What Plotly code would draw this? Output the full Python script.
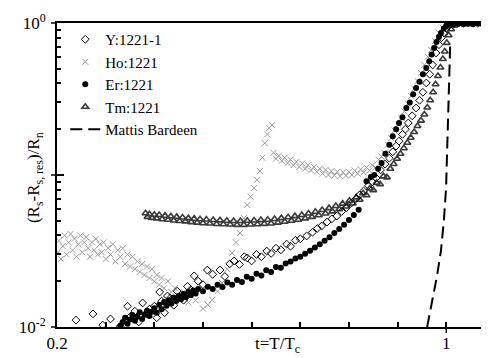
import plotly.graph_objects as go

# ---------------- data ----------------
y_t = [0.239, 0.274, 0.294, 0.310, 0.330, 0.345, 0.352, 0.360, 0.368, 0.376, 0.383, 0.390, 0.400, 0.405,
       0.411, 0.415, 0.421, 0.427, 0.433, 0.440, 0.447, 0.454, 0.460, 0.468, 0.475, 0.482, 0.490, 0.500,
       0.509, 0.520, 0.535, 0.545, 0.555, 0.564, 0.575, 0.585, 0.591, 0.600, 0.610, 0.620, 0.631, 0.640,
       0.650, 0.660, 0.672, 0.680, 0.690, 0.700, 0.713, 0.725, 0.735, 0.744, 0.755, 0.765, 0.775, 0.785,
       0.795, 0.805, 0.815, 0.822, 0.830, 0.840, 0.848, 0.856, 0.865, 0.874, 0.883, 0.890, 0.897, 0.903,
       0.910, 0.916, 0.922, 0.930, 0.938, 0.945, 0.952, 0.959, 0.966, 0.972, 0.979, 0.985, 0.990, 0.995,
       1.000, 1.005, 1.010]
y_val = [0.0111, 0.0122, 0.0103, 0.0113, 0.0101, 0.0137, 0.0118, 0.0127, 0.0108, 0.0144, 0.0122, 0.0131, 0.0137, 0.0115,
         0.0170, 0.0148, 0.0124, 0.0160, 0.0155, 0.0139, 0.0172, 0.0162, 0.0150, 0.0185, 0.0176, 0.0217, 0.0200, 0.0190,
         0.0237, 0.0222, 0.0237, 0.0215, 0.0260, 0.0272, 0.0258, 0.0290, 0.0285, 0.0272, 0.0300, 0.0290, 0.0316, 0.0305,
         0.0330, 0.0322, 0.0351, 0.0340, 0.0372, 0.0380, 0.0397, 0.0420, 0.0445, 0.0462, 0.0490, 0.0515, 0.0537, 0.0575,
         0.0610, 0.0654, 0.0700, 0.0740, 0.0785, 0.0850, 0.0900, 0.0955, 0.108, 0.118, 0.129, 0.142, 0.155, 0.167,
         0.185, 0.200, 0.220, 0.245, 0.276, 0.310, 0.350, 0.403, 0.460, 0.530, 0.635, 0.720, 0.800, 0.860,
         0.920, 0.960, 0.985]

ho_t = [0.202, 0.204, 0.208, 0.212, 0.216, 0.220, 0.224, 0.228, 0.232, 0.236, 0.240, 0.244, 0.248, 0.252,
        0.256, 0.260, 0.264, 0.268, 0.272, 0.276, 0.280, 0.284, 0.288, 0.292, 0.296, 0.300, 0.305, 0.310,
        0.315, 0.320, 0.325, 0.330, 0.335, 0.340, 0.345, 0.350, 0.355, 0.360, 0.365, 0.370, 0.375, 0.380,
        0.385, 0.390, 0.395, 0.400, 0.405, 0.410, 0.415, 0.420, 0.428, 0.435, 0.442, 0.450, 0.460, 0.470,
        0.485, 0.500, 0.510,
        0.519, 0.530, 0.539, 0.550, 0.560, 0.568, 0.576, 0.584, 0.591, 0.598, 0.605, 0.611, 0.617, 0.622,
        0.627, 0.632, 0.636, 0.642,
        0.645, 0.650, 0.656, 0.662, 0.668, 0.674, 0.680, 0.686, 0.692, 0.698, 0.704, 0.710, 0.716, 0.722,
        0.728, 0.734, 0.740, 0.746, 0.752, 0.758, 0.764, 0.770, 0.776, 0.782, 0.788, 0.794, 0.800, 0.806,
        0.812, 0.818, 0.824, 0.830, 0.836, 0.842, 0.848, 0.854, 0.861, 0.867, 0.873,
        0.880, 0.887, 0.894, 0.901, 0.908, 0.914, 0.921, 0.928, 0.934, 0.941, 0.948, 0.955, 0.962, 0.969,
        0.977, 0.985, 0.993, 1.000, 1.010, 1.030, 1.050, 1.070, 1.090]
ho_val = [0.031, 0.037, 0.028, 0.034, 0.040, 0.030, 0.036, 0.041, 0.032, 0.038, 0.029, 0.035, 0.040, 0.031,
          0.036, 0.039, 0.033, 0.029, 0.036, 0.032, 0.038, 0.030, 0.035, 0.031, 0.036, 0.028, 0.033, 0.030,
          0.035, 0.027, 0.032, 0.029, 0.033, 0.026, 0.030, 0.025, 0.029, 0.024, 0.027, 0.023, 0.026, 0.022,
          0.025, 0.021, 0.024, 0.020, 0.022, 0.019, 0.021, 0.018, 0.020, 0.017, 0.018, 0.016, 0.017, 0.0145,
          0.0150, 0.0132, 0.0140,
          0.0151, 0.0172, 0.0195, 0.0240, 0.0307, 0.0360, 0.0415, 0.0520, 0.0635, 0.0720, 0.0820, 0.0930, 0.106, 0.130,
          0.162, 0.185, 0.204, 0.213,
          0.140, 0.128, 0.134, 0.124, 0.130, 0.120, 0.126, 0.116, 0.122, 0.113, 0.119, 0.110, 0.116, 0.107,
          0.113, 0.105, 0.110, 0.102, 0.108, 0.100, 0.106, 0.099, 0.105, 0.098, 0.104, 0.099, 0.105, 0.100,
          0.107, 0.102, 0.109, 0.104, 0.112, 0.107, 0.116, 0.112, 0.126, 0.132, 0.140,
          0.158, 0.175, 0.196, 0.215, 0.237, 0.262, 0.295, 0.331, 0.370, 0.415, 0.469, 0.530, 0.600, 0.665,
          0.760, 0.860, 0.930, 0.970, 0.980, 0.975, 0.980, 0.975, 0.980]

er_t = [0.330, 0.335, 0.340, 0.345, 0.350, 0.355, 0.360, 0.365, 0.370, 0.375, 0.380, 0.385, 0.390, 0.395,
        0.400, 0.405, 0.410, 0.415, 0.420, 0.425, 0.430, 0.435, 0.440, 0.445, 0.450, 0.455, 0.460, 0.465,
        0.470, 0.475, 0.480, 0.485, 0.490, 0.500, 0.510, 0.520, 0.530, 0.540, 0.550, 0.560, 0.570, 0.580,
        0.590, 0.600, 0.610, 0.620, 0.630, 0.640, 0.650, 0.660, 0.670, 0.680, 0.690, 0.700, 0.710, 0.720,
        0.730, 0.740, 0.750, 0.760, 0.770, 0.780, 0.790, 0.800, 0.810, 0.820,
        0.836, 0.845, 0.852, 0.860, 0.867, 0.875, 0.883, 0.890, 0.897, 0.903, 0.910, 0.918, 0.925, 0.932,
        0.938, 0.945, 0.952, 0.959, 0.965, 0.970, 0.975, 0.980, 0.985, 0.989, 0.995, 1.000, 1.005, 1.010,
        1.015, 1.025, 1.035, 1.045, 1.055, 1.065, 1.075, 1.085]
er_val = [0.0102, 0.0108, 0.0115, 0.0105, 0.0112, 0.0120, 0.0110, 0.0117, 0.0125, 0.0113, 0.0121, 0.0128, 0.0118, 0.0126,
          0.0133, 0.0124, 0.0140, 0.0131, 0.0146, 0.0138, 0.0150, 0.0143, 0.0156, 0.0148, 0.0160, 0.0152, 0.0165, 0.0157,
          0.0170, 0.0162, 0.0174, 0.0166, 0.0178, 0.0172, 0.0184, 0.0178, 0.0190, 0.0183, 0.0196, 0.0190, 0.0204, 0.0198,
          0.0214, 0.0208, 0.0224, 0.0218, 0.0236, 0.0230, 0.0248, 0.0245, 0.0262, 0.0270, 0.0282, 0.0290, 0.0303, 0.0318,
          0.0333, 0.0350, 0.0370, 0.0390, 0.0415, 0.0442, 0.0470, 0.0505, 0.0545, 0.0590,
          0.091, 0.097, 0.100, 0.110, 0.120, 0.138, 0.158, 0.180, 0.200, 0.220, 0.240, 0.276, 0.300, 0.340,
          0.373, 0.410, 0.460, 0.506, 0.560, 0.620, 0.685, 0.750, 0.810, 0.860, 0.920, 0.960, 0.980, 0.990,
          0.980, 0.990, 0.980, 0.990, 0.980, 0.990, 0.980, 0.990]

tm_t = [0.382, 0.386, 0.390, 0.395, 0.400, 0.405, 0.410, 0.416, 0.422, 0.428, 0.434, 0.440, 0.446, 0.452,
        0.458, 0.464, 0.470, 0.476, 0.482, 0.488, 0.494, 0.500, 0.507, 0.514, 0.521, 0.528, 0.535, 0.542,
        0.549, 0.556, 0.563, 0.570, 0.577, 0.584, 0.591, 0.598, 0.605, 0.612, 0.619, 0.626, 0.633, 0.640,
        0.647, 0.654, 0.661, 0.668, 0.675, 0.682, 0.689, 0.696, 0.703, 0.710, 0.717, 0.724, 0.731, 0.738,
        0.745, 0.752, 0.759, 0.766, 0.773, 0.780, 0.787, 0.794, 0.801, 0.808, 0.815, 0.822, 0.829, 0.836,
        0.843, 0.850, 0.857, 0.864, 0.871, 0.878, 0.885, 0.892, 0.899, 0.906, 0.913, 0.920, 0.927, 0.934,
        0.941, 0.948, 0.955, 0.961, 0.967, 0.973, 0.978, 0.983, 0.988, 0.993, 0.997, 1.001, 1.005, 1.010,
        1.016, 1.022, 1.030, 1.040, 1.050, 1.060, 1.070, 1.080, 1.090]
tm_val = [0.0560, 0.0530, 0.0552, 0.0522, 0.0548, 0.0518, 0.0545, 0.0512, 0.0540, 0.0508, 0.0534, 0.0502, 0.0530, 0.0498,
          0.0525, 0.0495, 0.0520, 0.0490, 0.0516, 0.0486, 0.0512, 0.0482, 0.0510, 0.0480, 0.0506, 0.0476, 0.0503, 0.0474,
          0.0500, 0.0472, 0.0498, 0.0470, 0.0498, 0.0470, 0.0500, 0.0472, 0.0502, 0.0474, 0.0505, 0.0477, 0.0508, 0.0480,
          0.0513, 0.0486, 0.0520, 0.0492, 0.0527, 0.0500, 0.0536, 0.0508, 0.0546, 0.0518, 0.0558, 0.0530, 0.0572, 0.0543,
          0.0588, 0.0558, 0.0605, 0.0576, 0.0625, 0.0596, 0.0648, 0.0620, 0.0676, 0.0650, 0.0712, 0.0688, 0.0758, 0.0735,
          0.0815, 0.0795, 0.0888, 0.0870, 0.0980, 0.0965, 0.110, 0.118, 0.128, 0.138, 0.150, 0.163, 0.176, 0.192,
          0.210, 0.228, 0.250, 0.278, 0.310, 0.350, 0.395, 0.448, 0.510, 0.580, 0.650, 0.740, 0.830, 0.910,
          0.960, 0.985, 0.990, 0.985, 0.990, 0.988, 0.990, 0.985, 0.990]

mb_t = [0.9607, 0.971, 0.981, 0.989, 0.995, 0.9996, 1.0037, 1.008]
mb_val = [0.0100, 0.0144, 0.0217, 0.0316, 0.0498, 0.082, 0.237, 0.706]

names = ["Y:1221-1", "Ho:1221", "Er:1221", "Tm:1221", "Mattis Bardeen"]
x_tickvals = [0.2, 0.3, 0.4, 0.5, 0.6, 0.7, 0.8, 0.9, 1.0]
x_ticktext = ["0.2", "", "", "", "", "", "", "", "1"]
y_tickvals = [0.01, 0.1, 1]
y_ticktext = ["10<sup>-2</sup>", "", "10<sup>0</sup>"]
y_minor = [m * d for d in (0.01, 0.1) for m in range(2, 10)]

FONT = "Liberation Serif"

fig = go.Figure()
fig.add_trace(go.Scatter(x=ho_t, y=ho_val, mode="markers", name=names[1], legendrank=2,
                         marker=dict(symbol="x-thin-open", size=6, color="#9a9a9a", line=dict(width=1, color="#9a9a9a"))))
fig.add_trace(go.Scatter(x=tm_t, y=tm_val, mode="markers", name=names[3], legendrank=4,
                         marker=dict(symbol="triangle-up-open", size=6, color="#3a3a3a", line=dict(width=1.6, color="#3a3a3a"))))
fig.add_trace(go.Scatter(x=y_t, y=y_val, mode="markers", name=names[0], legendrank=1,
                         marker=dict(symbol="diamond-open", size=6, color="black", line=dict(width=1, color="black"))))
fig.add_trace(go.Scatter(x=er_t, y=er_val, mode="markers", name=names[2], legendrank=3,
                         marker=dict(symbol="circle", size=6, color="black")))
fig.add_trace(go.Scatter(x=mb_t, y=mb_val, mode="lines", name=names[4], legendrank=5,
                         line=dict(color="black", width=2, dash="12px,6px")))

shapes = []
# outside stubs of the major ticks
for yp in (0.0, 0.5, 1.0):
    shapes.append(dict(type="line", xref="paper", yref="paper", x0=-6 / 437, x1=0, y0=yp, y1=yp,
                       line=dict(color="black", width=1.5)))
shapes.append(dict(type="line", xref="x", yref="paper", x0=1.0, x1=1.0, y0=0, y1=-6 / 304,
                   line=dict(color="black", width=1.5)))

fig.update_layout(
    width=489, height=358,
    margin=dict(l=49, r=3, t=15, b=39),
    paper_bgcolor="white", plot_bgcolor="white",
    font=dict(family=FONT, size=17, color="black"),
    showlegend=True,
    legend=dict(x=0.019, y=1.0, xanchor="left", yanchor="top", bgcolor="rgba(0,0,0,0)",
                font=dict(family=FONT, size=15, color="black"), tracegroupgap=0),
    xaxis=dict(range=[0.2, 1.094], tickvals=x_tickvals, ticktext=x_ticktext, ticks="inside", ticklen=5,
               tickwidth=1.5, tickcolor="black", showline=True, linecolor="black", linewidth=2, mirror=True,
               showgrid=False, zeroline=False, ticklabelstandoff=0,
               tickfont=dict(family=FONT, size=17, color="black")),
    yaxis=dict(type="log", range=[-2, 0], tickvals=y_tickvals, ticktext=y_ticktext, ticks="inside", ticklen=7,
               tickwidth=1.5, tickcolor="black", showline=True, linecolor="black", linewidth=2, mirror="allticks",
               showgrid=False, zeroline=False, ticklabelstandoff=6,
               tickfont=dict(family=FONT, size=17, color="black"),
               minor=dict(tickvals=y_minor, ticks="inside", ticklen=4, tickwidth=1.5, tickcolor="black", showgrid=False)),
    shapes=shapes,
    annotations=[
        dict(text="t=T/T<sub>c</sub>", xref="paper", yref="paper", x=(271 - 49) / 437, y=-18 / 304,
             xanchor="center", yanchor="middle", showarrow=False, font=dict(family=FONT, size=17, color="black")),
        dict(text="(R<sub>s</sub>-R<sub>s, res</sub>)/R<sub>n</sub>", xref="paper", yref="paper",
             x=-22 / 437, y=(319 - 170) / 304, xanchor="center", yanchor="middle", textangle=-90,
             showarrow=False, font=dict(family=FONT, size=17, color="black")),
    ],
)

fig.write_html("out.html")
